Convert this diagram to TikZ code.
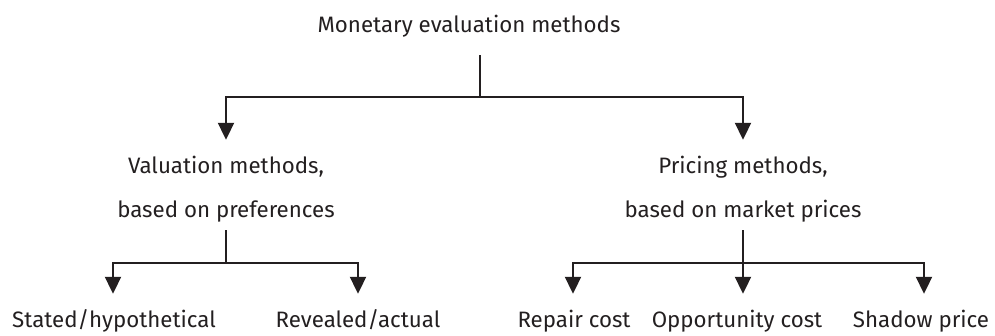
\documentclass[tikz,border=0pt]{standalone}
\usepackage{fontspec}
\setmainfont{Fira Sans}
\usetikzlibrary{arrows.meta}

\definecolor{ink}{HTML}{231F20}

\tikzset{
  lbl/.style={anchor=base, inner sep=0pt, text height=18pt, text depth=6pt, text=ink},
  link/.style={draw=ink, line width=2pt},
  arr/.style={link, -{Triangle[width=16pt,length=17pt]}, shorten >=15pt},
}

\begin{document}
\begin{tikzpicture}[x=1pt,y=-1pt,font=\fontsize{22.3}{26}\selectfont]
\useasboundingbox (0,0) rectangle (995,335);
% labels
\node[lbl] (root) at (469,32) {Monetary evaluation methods};
\node[lbl] (val1) at (226,173) {Valuation methods,};
\node[lbl] (val2) at (226,217) {based on preferences};
\node[lbl] (pri1) at (743,173) {Pricing methods,};
\node[lbl] (pri2) at (743,217) {based on market prices};
\node[lbl] (stat) at (114,327) {Stated/hypothetical};
\node[lbl] (rev) at (358,327) {Revealed/actual};
\node[lbl] (rep) at (574,327) {Repair cost};
\node[lbl] (opp) at (737,327) {Opportunity cost};
\node[lbl] (sha) at (921,327) {Shadow price};
% junctions
\coordinate (j0) at (480,97);
\coordinate (j1) at (226,263);
\coordinate (j2) at (743,263);
% top level
\draw[link,shorten <=17pt] (root.south -| j0) -- (j0);
\draw[arr] (j0) -| (val1.north);
\draw[arr] (j0) -| (pri1.north);
% valuation
\draw[link,shorten <=7pt] (val2.south) -- (j1);
\draw[arr] (j1) -| (stat.north -| 113,0);
\draw[arr] (j1) -| (rev.north);
% pricing
\draw[link,shorten <=7pt] (pri2.south) -- (j2);
\draw[arr] (j2) -| (rep.north -| 573,0);
\draw[arr] (j2) -- (j2 |- opp.north);
\draw[arr] (j2) -| (sha.north -| 924,0);
\end{tikzpicture}
\end{document}
